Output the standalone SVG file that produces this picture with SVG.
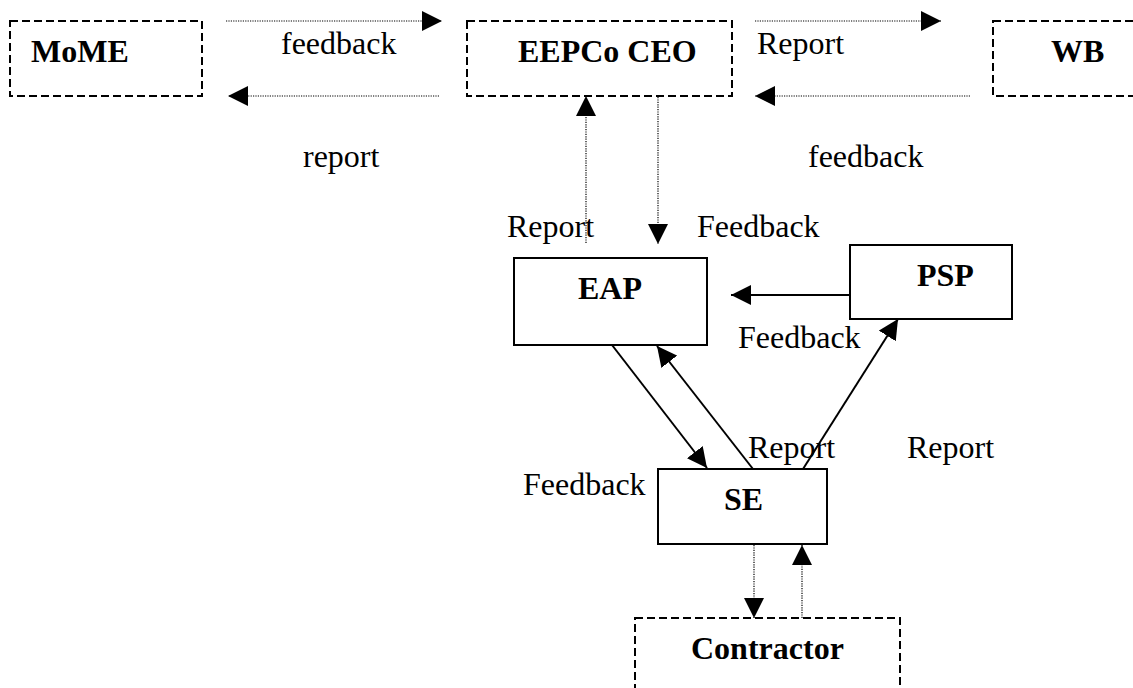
<svg xmlns="http://www.w3.org/2000/svg" width="1133" height="688" viewBox="0 0 1133 688">
<defs>
<marker id="ah" markerWidth="20" markerHeight="20" viewBox="0 0 20 20" refX="20" refY="10" orient="auto" markerUnits="userSpaceOnUse">
<path d="M0,0 L20,10 L0,20 Z" fill="#000"/>
</marker>
</defs>
<style>
.dbox{fill:none;stroke:#000;stroke-width:2;stroke-dasharray:8,4}
.sbox{fill:#fff;stroke:#000;stroke-width:2}
.dot{fill:none;stroke:#000;stroke-width:1.2;stroke-dasharray:1.2,1.2;marker-end:url(#ah)}
.sol{fill:none;stroke:#000;stroke-width:2;marker-end:url(#ah)}
.t{font-family:"Liberation Serif","Times New Roman",serif;font-size:32px;fill:#000}
.b{font-family:"Liberation Serif","Times New Roman",serif;font-size:32px;font-weight:bold;fill:#000}
</style>
<rect width="1133" height="688" fill="#fff"/>
<g id="connectors">
<line class="dot" x1="226" y1="21" x2="442" y2="21"/>
<line class="dot" x1="439" y1="96" x2="228" y2="96"/>
<line class="dot" x1="755" y1="21" x2="941" y2="21"/>
<line class="dot" x1="970" y1="96" x2="755" y2="96"/>
<line class="dot" x1="586" y1="243" x2="586" y2="96"/>
<line class="dot" x1="658" y1="97" x2="658" y2="244"/>
<line class="sol" x1="850" y1="295" x2="731" y2="295"/>
<line class="sol" x1="612" y1="345" x2="707" y2="468"/>
<line class="sol" x1="753" y1="469" x2="657" y2="346"/>
<line class="sol" x1="803" y1="469" x2="898" y2="319"/>
<line class="dot" x1="754" y1="545" x2="754" y2="618"/>
<line class="dot" x1="802" y1="618" x2="802" y2="545"/>
</g>
<g id="labels">
<text class="t" x="281" y="54">feedback</text>
<text class="t" x="303" y="167">report</text>
<text class="t" x="757" y="54">Report</text>
<text class="t" x="808" y="167">feedback</text>
<text class="t" x="507" y="237">Report</text>
<text class="t" x="697" y="237">Feedback</text>
<text class="t" x="738" y="348">Feedback</text>
<text class="t" x="748" y="458">Report</text>
<text class="t" x="907" y="458">Report</text>
<text class="t" x="523" y="495">Feedback</text>
</g>
<g id="MoME">
<rect class="dbox" x="10" y="21" width="192" height="75"/>
<text class="b" x="31" y="62">MoME</text>
</g>
<g id="EEPCoCEO">
<rect class="dbox" x="467" y="21" width="265" height="75"/>
<text class="b" x="518" y="62">EEPCo CEO</text>
</g>
<g id="WB">
<rect class="dbox" x="993" y="21" width="160" height="75"/>
<text class="b" x="1051" y="62">WB</text>
</g>
<g id="EAP">
<rect class="sbox" x="514" y="258" width="193" height="87"/>
<text class="b" x="578" y="299">EAP</text>
</g>
<g id="PSP">
<rect class="sbox" x="850" y="245" width="162" height="74"/>
<text class="b" x="917" y="286">PSP</text>
</g>
<g id="SE">
<rect class="sbox" x="658" y="469" width="169" height="75"/>
<text class="b" x="724" y="510">SE</text>
</g>
<g id="Contractor">
<rect class="dbox" x="635" y="618" width="265" height="90"/>
<text class="b" x="691" y="659">Contractor</text>
</g>
</svg>
